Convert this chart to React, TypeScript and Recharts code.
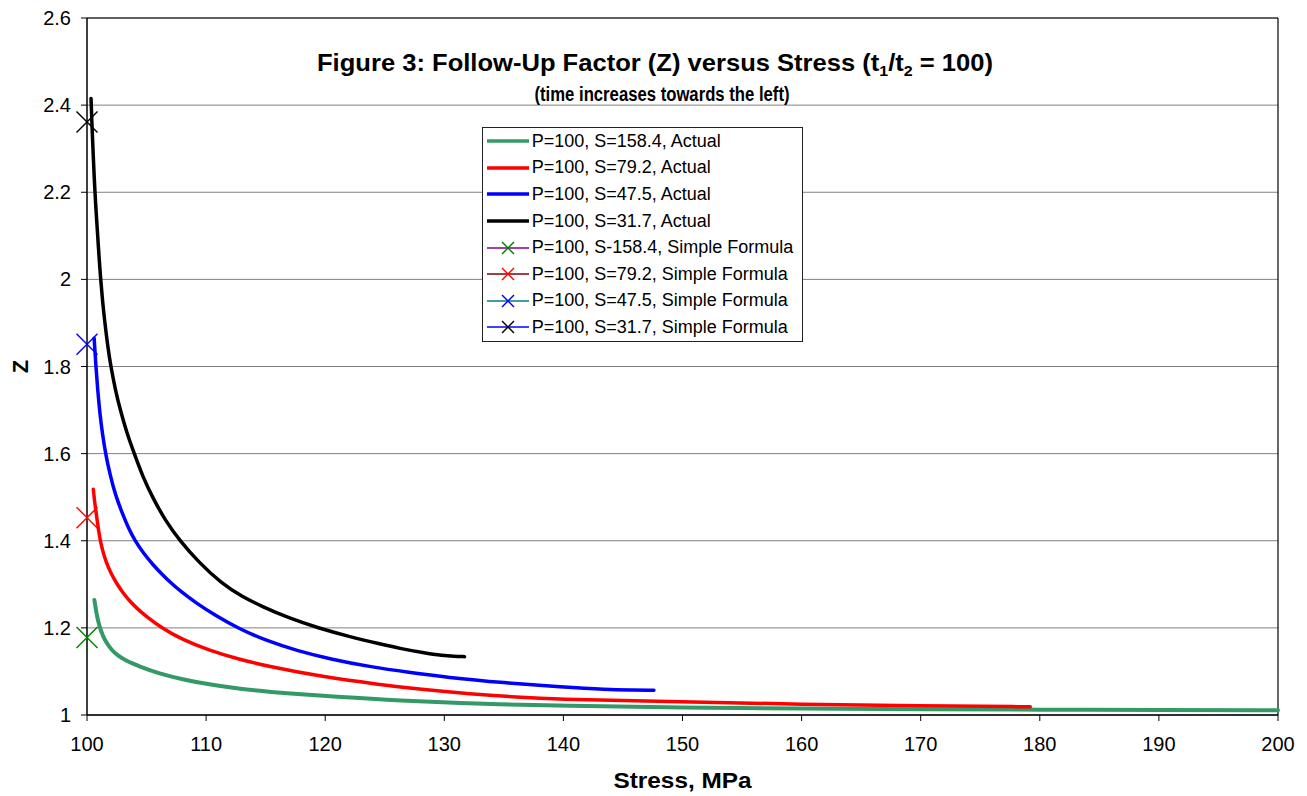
import React from "react";
import { CartesianGrid, Label, Legend, Line, LineChart, ReferenceLine, XAxis, YAxis } from "recharts";

const FONT = '"Liberation Sans", Arial, Helvetica, sans-serif';

// axis ticks
const xTicks = [100, 110, 120, 130, 140, 150, 160, 170, 180, 190, 200];
const yTicks = [1, 1.2, 1.4, 1.6, 1.8, 2, 2.2, 2.4, 2.6];

// P=100, S=158.4, Actual
const stress158 = [100.62, 100.7, 100.8, 100.94, 101.09, 101.3, 101.6, 102.07, 102.6, 103.3, 104.45, 106, 108.2, 110, 112, 113.8, 117, 120.8, 126, 133.4, 140, 150, 160, 170, 180, 190, 200];
const z158 = [1.264, 1.25, 1.233, 1.215, 1.2, 1.184, 1.167, 1.149, 1.136, 1.124, 1.111, 1.0956, 1.0805, 1.0715, 1.0635, 1.057, 1.049, 1.042, 1.033, 1.025, 1.021, 1.0168, 1.0148, 1.0132, 1.0122, 1.0115, 1.011];

// P=100, S=79.2, Actual
const stress79 = [100.53, 100.65, 100.81, 100.95, 101.09, 101.3, 101.6, 102.0, 102.49, 103.0, 103.6, 104.3, 105.0, 106.27, 108, 110.2, 112.7, 115.5, 119.5, 124.5, 128, 132.2, 136, 140, 145, 150, 160, 170, 179.2];
const z79 = [1.518, 1.487, 1.456, 1.428, 1.404, 1.378, 1.351, 1.326, 1.302, 1.281, 1.261, 1.242, 1.226, 1.2, 1.173, 1.149, 1.128, 1.11, 1.089, 1.07, 1.059, 1.0485, 1.041, 1.036, 1.033, 1.0306, 1.0245, 1.0207, 1.019];

// P=100, S=47.5, Actual
const stress47 = [100.6, 100.75, 100.9, 101.09, 101.3, 101.57, 101.95, 102.35, 103.0, 103.5, 104.03, 104.7, 105.5, 106.3, 107.1, 108.0, 109.07, 110.8, 112.7, 115, 117.7, 120.5, 123.9, 127, 130.2, 135, 139.9, 143.7, 145.6, 147.6];
const z47 = [1.865, 1.8, 1.745, 1.69, 1.645, 1.598, 1.55, 1.508, 1.46, 1.428, 1.4, 1.373, 1.346, 1.323, 1.302, 1.281, 1.259, 1.228, 1.199, 1.171, 1.147, 1.128, 1.11, 1.098, 1.0865, 1.074, 1.064, 1.058, 1.0572, 1.057];

// P=100, S=31.7, Actual
const stress31 = [100.34, 100.42, 100.5, 100.58, 100.67, 100.78, 100.9, 101.02, 101.15, 101.3, 101.5, 101.75, 102.0, 102.4, 102.8, 103.35, 103.97, 104.7, 105.5, 106.6, 107.8, 109.4, 111.3, 113, 114.7, 117, 119.4, 122, 124.6, 126.4, 128.2, 129.9, 130.8, 131.7];
const z31 = [2.415, 2.351, 2.3, 2.249, 2.2, 2.148, 2.1, 2.047, 2.0, 1.952, 1.9, 1.845, 1.8, 1.744, 1.7, 1.647, 1.6, 1.546, 1.5, 1.445, 1.4, 1.35, 1.302, 1.272, 1.249, 1.222, 1.2, 1.18, 1.163, 1.152, 1.143, 1.136, 1.1345, 1.134];

// Simple formula values (one point each, at stress = P)
const simpleStress = [100, 100, 100, 100];
const simpleZ = [1.178, 1.453, 1.851, 2.361];

const actualLabels = ["P=100, S=158.4, Actual", "P=100, S=79.2, Actual", "P=100, S=47.5, Actual", "P=100, S=31.7, Actual"];
const simpleLabels = ["P=100, S-158.4, Simple Formula", "P=100, S=79.2, Simple Formula", "P=100, S=47.5, Simple Formula", "P=100, S=31.7, Simple Formula"];

const actualColors = ["#339966", "#ff0000", "#0000ff", "#000000"];
const simpleLineColors = ["#800080", "#800000", "#008080", "#0000ff"];
const simpleMarkerColors = ["#008000", "#ff0000", "#0000ff", "#000000"];

const zip = (xs: number[], ys: number[]) => xs.map((s, i) => ({ stress: s, z: ys[i] }));

const actualSeries = [zip(stress158, z158), zip(stress79, z79), zip(stress47, z47), zip(stress31, z31)];
const simpleSeries = simpleStress.map((s, i) => [{ stress: s, z: simpleZ[i] }]);

const crossDot = (color: string, half: number) => (props: any) => {
  const { cx, cy, index } = props;
  if (cx == null || cy == null) return <g key={index} />;
  return (
    <g key={`x-${color}-${index}`}>
      <line x1={cx - half} y1={cy - half} x2={cx + half} y2={cy + half} stroke={color} strokeWidth={1.4} />
      <line x1={cx - half} y1={cy + half} x2={cx + half} y2={cy - half} stroke={color} strokeWidth={1.4} />
    </g>
  );
};

function LegendBox() {
  const rows = [
    ...actualLabels.map((label, i) => ({ label, line: actualColors[i], marker: null as string | null, width: 3.5 })),
    ...simpleLabels.map((label, i) => ({ label, line: simpleLineColors[i], marker: simpleMarkerColors[i], width: 1.5 })),
  ];
  return (
    <div style={{ width: 321, height: 215, boxSizing: "border-box", border: "1px solid #222", background: "#fff", fontFamily: FONT, fontSize: 18, color: "#000" }}>
      {rows.map((r) => (
        <div key={r.label} style={{ height: 26.6, display: "flex", alignItems: "center", whiteSpace: "nowrap" }}>
          <svg width={49} height={26} style={{ flex: "none" }}>
            <line x1={4} y1={13} x2={46} y2={13} stroke={r.line} strokeWidth={r.width} />
            {r.marker && (
              <g>
                <line x1={19} y1={7} x2={31} y2={19} stroke={r.marker} strokeWidth={1.5} />
                <line x1={19} y1={19} x2={31} y2={7} stroke={r.marker} strokeWidth={1.5} />
              </g>
            )}
          </svg>
          <span>{r.label}</span>
        </div>
      ))}
    </div>
  );
}

export default function App() {
  const tickStyle = { fontSize: 20, fill: "#000", fontFamily: FONT };
  return (
    <div style={{ position: "relative", width: 1299, height: 786, background: "#fff", fontFamily: FONT }}>
      <LineChart width={1299} height={786} margin={{ top: 10, right: 29, left: 0, bottom: 0 }}>
        <CartesianGrid horizontal vertical={false} stroke="#808080" strokeWidth={1} />
        <XAxis
          type="number"
          dataKey="stress"
          domain={[100, 200]}
          ticks={xTicks}
          interval={0}
          height={79}
          tickSize={6}
          tickMargin={16}
          tick={tickStyle}
          axisLine={{ stroke: "#000", strokeWidth: 1.5 }}
          tickLine={{ stroke: "#000" }}
        >
          <Label
            content={(p: any) => {
              const vb = p.viewBox;
              return (
                <text x={vb.x + vb.width / 2} y={vb.y + 73} textAnchor="middle" fontFamily={FONT} fontWeight="bold" fontSize={22} fill="#000" textLength={138} lengthAdjust="spacingAndGlyphs">
                  Stress, MPa
                </text>
              );
            }}
          />
        </XAxis>
        <YAxis
          type="number"
          domain={[1, 2.6]}
          ticks={yTicks}
          interval={0}
          width={79}
          tickSize={6}
          tickMargin={10}
          tick={tickStyle}
          axisLine={{ stroke: "#000", strokeWidth: 1.5 }}
          tickLine={{ stroke: "#000" }}
        >
          <Label
            content={(p: any) => {
              const vb = p.viewBox;
              const cy = vb.y + vb.height / 2;
              return (
                <text x={20} y={cy} transform={`rotate(-90, 20, ${cy})`} textAnchor="middle" fontFamily={FONT} fontWeight="bold" fontSize={22} fill="#000">
                  Z
                </text>
              );
            }}
          />
        </YAxis>
        <ReferenceLine y={2.6} stroke="#000" strokeWidth={1.2} />
        <ReferenceLine x={200} stroke="#000" strokeWidth={1.2} />
        {actualSeries.map((d, i) => (
          <Line
            key={actualLabels[i]}
            data={d}
            dataKey="z"
            type="basis"
            stroke={actualColors[i]}
            strokeWidth={i === 0 ? 4 : 3.5}
            strokeLinecap="round"
            dot={false}
            activeDot={false}
            isAnimationActive={false}
          />
        ))}
        {simpleSeries.map((d, i) => (
          <Line
            key={simpleLabels[i]}
            data={d}
            dataKey="z"
            type="linear"
            stroke={simpleLineColors[i]}
            strokeWidth={1}
            dot={crossDot(simpleMarkerColors[i], 10.5)}
            activeDot={false}
            isAnimationActive={false}
          />
        ))}
        <Legend
          layout="vertical"
          align="center"
          verticalAlign="middle"
          wrapperStyle={{ position: "absolute", left: 473.7, top: 119, width: 321, height: 215 }}
          content={() => <LegendBox />}
        />
      </LineChart>
      <svg width={1299} height={120} style={{ position: "absolute", left: 0, top: 0, pointerEvents: "none" }}>
        <text x={647} y={63} textAnchor="middle" fontFamily={FONT} fontWeight="bold" fontSize={24} fill="#000" textLength={676} lengthAdjust="spacingAndGlyphs">
          Figure 3: Follow-Up Factor (Z) versus Stress (t<tspan fontSize={15} dy={5}>1</tspan>
          <tspan dy={-5}>/t</tspan>
          <tspan fontSize={15} dy={5}>2</tspan>
          <tspan dy={-5}> = 100)</tspan>
        </text>
        <text x={654} y={93} textAnchor="middle" fontFamily={FONT} fontWeight="bold" fontSize={20} fill="#000" textLength={255} lengthAdjust="spacingAndGlyphs">
          (time increases towards the left)
        </text>
      </svg>
    </div>
  );
}
